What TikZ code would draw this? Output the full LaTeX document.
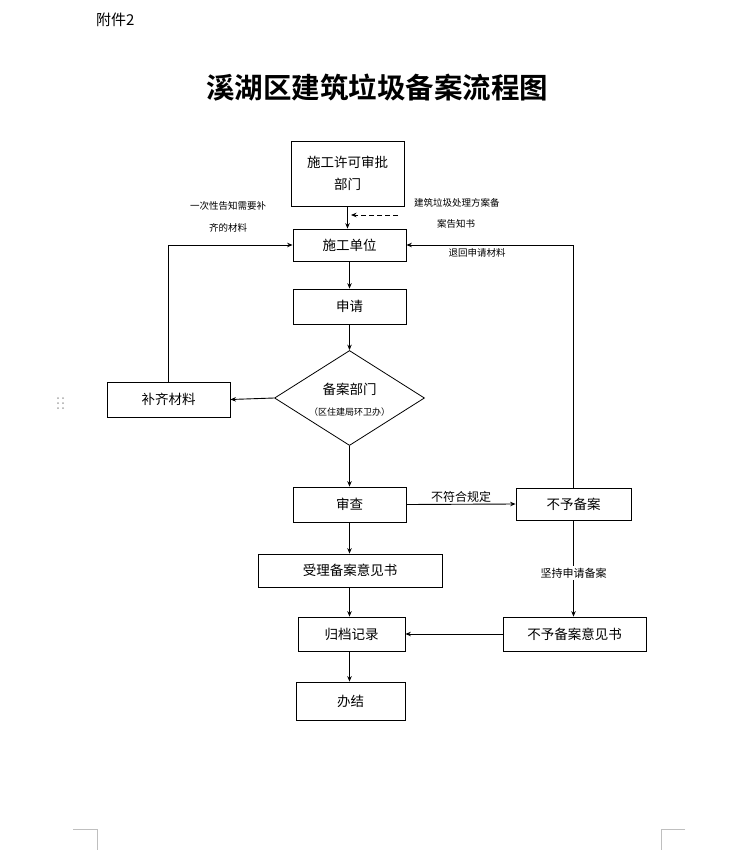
\documentclass[tikz,border=0pt]{standalone}
\usepackage{fontspec}
\setmainfont{Noto Sans CJK SC}[BoldFont={Noto Sans CJK SC Bold}]
\usetikzlibrary{arrows.meta,shapes.geometric}
\begin{document}
\begin{tikzpicture}[x=1pt,y=-1pt,
  box/.style={draw,line width=0.8pt,inner sep=0pt,font=\fontsize{13.5}{16}\selectfont},
  conn/.style={line width=0.9pt,-{Stealth[length=5.5pt,width=4.5pt]}},
  lbl/.style={inner sep=0pt,font=\fontsize{10}{12}\selectfont},
  cornermark/.style={draw=black!25,line width=0.8pt}]
\useasboundingbox (0,0) rectangle (755,850);
% header
\node[anchor=west,inner sep=0pt,font=\fontsize{15}{18}\selectfont] (att) at (96,20) {附件2};
\node[inner sep=0pt,font=\fontsize{28.5}{32}\bfseries\selectfont] (title) at (377,88) {溪湖区建筑垃圾备案流程图};
% boxes
\node[box,minimum width=113,minimum height=65,align=center,font=\fontsize{13.5}{22}\selectfont] (permit) at (347.5,173.5) {施工许可审批\\部门};
\node[box,minimum width=113,minimum height=32] (unit) at (349.5,245) {施工单位};
\node[box,minimum width=113,minimum height=35] (apply) at (349.5,306.5) {申请};
\node[diamond,draw,line width=0.8pt,minimum width=150,minimum height=95,inner sep=0pt] (dept) at (349.5,398) {};
\node[inner sep=0pt,font=\fontsize{13.5}{16}\selectfont] (deptA) at (349.5,389) {备案部门};
\node[inner sep=0pt,font=\fontsize{9}{11}\selectfont] (deptB) at (349.5,412) {（区住建局环卫办）};
\node[box,minimum width=123,minimum height=35] (supp) at (168.5,399.5) {补齐材料};
\node[box,minimum width=113,minimum height=35] (review) at (349.5,504.5) {审查};
\node[box,minimum width=115,minimum height=32] (reject) at (573.5,504) {不予备案};
\node[box,minimum width=184,minimum height=33] (accept) at (350,570.5) {受理备案意见书};
\node[box,minimum width=107,minimum height=34] (archive) at (351.5,634) {归档记录};
\node[box,minimum width=143,minimum height=34] (rejectop) at (574.5,634) {不予备案意见书};
\node[box,minimum width=109,minimum height=38] (done) at (350.5,701) {办结};
% connectors
\draw[conn] (permit.south) -- (permit.south |- unit.north);
\coordinate (dashS) at (398,215);
\coordinate (dashE) at (351,215);
\draw[conn,dashed,dash pattern=on 5pt off 3pt] (dashS) -- (dashE);
\node[lbl,anchor=west,font=\fontsize{9.5}{11}\selectfont] (notice1) at (414,203) {建筑垃圾处理方案备};
\node[lbl,font=\fontsize{9.5}{11}\selectfont] (notice2) at (456,224) {案告知书};
\draw[conn] (unit) -- (apply);
\draw[conn] (apply) -- (dept);
\draw[conn] (dept.west) -- (supp.east);
\draw[conn] (supp.north) |- (unit.west);
\node[lbl,font=\fontsize{9.5}{11}\selectfont] (once1) at (228,206) {一次性告知需要补};
\node[lbl,font=\fontsize{9.5}{11}\selectfont] (once2) at (228,228) {齐的材料};
\draw[conn] (dept.south) -- (review.north);
\draw[conn] (review.east) -- node[lbl,above=1pt,font=\fontsize{12}{14}\selectfont] (nonc) {不符合规定} (reject.west);
\draw[conn] (reject.north) |- (unit.east);
\node[lbl,font=\fontsize{9.5}{11}\selectfont] (ret) at (477,253) {退回申请材料};
\draw[conn] (review.south) -- (review.south |- accept.north);
\draw[conn] (review.south |- accept.south) -- (review.south |- archive.north);
\draw[conn] (reject.south) -- node[lbl,pos=0.55,fill=white,inner sep=2pt,font=\fontsize{11}{13}\selectfont] (insist) {坚持申请备案} (reject.south |- rejectop.north);
\draw[conn] (rejectop) -- (archive);
\draw[conn] (review.south |- archive.south) -- (review.south |- done.north);
% drag handle dots
\foreach \i in {398,403,408} {
  \fill[black!35] (58,\i) circle (1pt);
  \fill[black!35] (63,\i) circle (1pt);
}
% page corner marks
\draw[cornermark] (73,829) -- (97,829) -- (97,850);
\draw[cornermark] (685,829) -- (661,829) -- (661,850);
\end{tikzpicture}
\end{document}
